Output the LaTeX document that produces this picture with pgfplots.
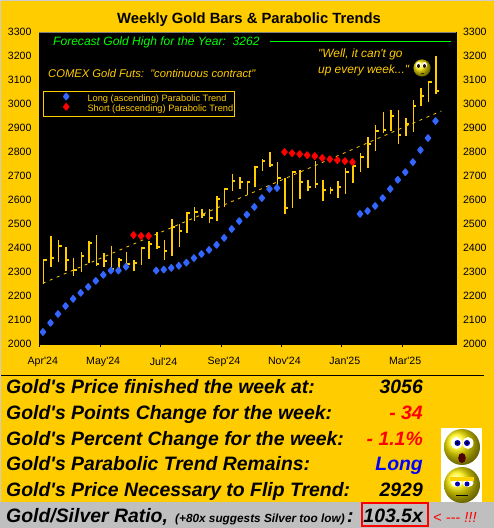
\documentclass[border=0pt]{standalone}
\usepackage{pgfplots}
\pgfplotsset{compat=1.18}
\usepackage{pgfplotstable}
\usepackage{fontspec}
\defaultfontfeatures[\rmfamily]{}
\setmainfont{Liberation Sans}
\definecolor{gold}{HTML}{FFCC00}
\definecolor{bluept}{HTML}{3366FF}
\definecolor{redpt}{HTML}{FF0000}
\definecolor{grn}{HTML}{00FF00}
\pgfdeclareplotmark{closetick}{\pgfpathrectangle{\pgfqpoint{0pt}{-1pt}}{\pgfqpoint{3pt}{2pt}}\pgfusepathqfill}
\pgfplotsset{ptleg/.style={legend image code/.code={\path (0,0) (42pt,0); \draw[##1] plot coordinates {(22pt,2pt)};}}}
\pgfplotstableread{
i h l c
0 2353 2250 2350
1 2450 2322 2358
2 2433 2342 2408
3 2404 2304 2350
4 2358 2283 2308
5 2383 2300 2367
6 2429 2336 2421
7 2454 2325 2333
8 2379 2321 2346
9 2408 2304 2312
10 2358 2304 2350
11 2383 2312 2333
12 2350 2304 2337
13 2404 2329 2400
14 2429 2354 2417
15 2468 2396 2404
16 2433 2350 2387
17 2521 2367 2487
18 2500 2405 2471
19 2550 2462 2546
20 2571 2512 2550
21 2562 2525 2537
22 2562 2504 2525
23 2617 2512 2604
24 2650 2571 2646
25 2708 2637 2679
26 2696 2646 2675
27 2679 2621 2675
28 2742 2654 2737
29 2771 2721 2762
30 2800 2737 2746
31 2758 2642 2692
32 2692 2542 2567
33 2721 2567 2717
34 2725 2604 2675
35 2684 2638 2654
36 2763 2650 2667
37 2684 2596 2642
38 2654 2625 2642
39 2679 2609 2654
40 2734 2625 2717
41 2759 2671 2742
42 2796 2717 2779
43 2863 2734 2834
44 2913 2804 2888
45 2967 2879 2892
46 2975 2888 2950
47 2975 2834 2871
48 2942 2867 2917
49 3017 2884 2992
50 3067 2992 3034
51 3096 3009 3092
52 3200 3042 3054
}\bars
\pgfplotstableread{
i p
0 2050
1 2088
2 2125
3 2158
4 2188
5 2213
6 2238
7 2263
8 2288
9 2306
10 2306
11 2322
15 2306
16 2310
17 2317
18 2326
19 2339
20 2358
21 2375
22 2392
23 2413
24 2442
25 2479
26 2512
27 2539
28 2571
29 2608
30 2646
31 2650
42 2542
43 2554
44 2575
45 2608
46 2646
47 2684
48 2716
49 2758
50 2808
51 2858
52 2929
}\longpts
\pgfplotstableread{
i p
12 2454
13 2450
14 2450
32 2800
33 2795
34 2791
35 2787
36 2783
37 2775
38 2770
39 2766
40 2762
41 2758
}\shortpts
\begin{document}
\begin{tikzpicture}[x=1pt,y=1pt]
\fill[gold] (0,0) rectangle (494,528);
\fill[gray!40] (0,527) rectangle (494,528);
\fill[gray!40] (0,0) rectangle (1,528);
\fill[gray!50] (0,0) rectangle (494,26);
\draw[black,line width=0.9pt] (1,153) -- (484,153);
\begin{axis}[at={(39pt,184pt)},anchor=south west,width=417pt,height=312pt,scale only axis,
 xmin=-0.6,xmax=54.63,ymin=2000,ymax=3300,
 axis background/.style={fill=black},
 axis line style={black},
 clip=true,
 xtick={-0.5,7.5,15.5,23.5,31.5,39.5,47.5},
 xticklabels={Apr'24,May'24,Jul'24,Sep'24,Nov'24,Jan'25,Mar'25},
 xtick pos=lower,xtick align=outside,
 major tick length=3pt,
 tick style={black,line width=0.7pt},
 xticklabel style={font=\fontsize{10.6}{12}\selectfont,xshift=3pt,yshift=-7pt},
 ytick={2000,2100,...,3300},
 ytick style={draw=none},
 yticklabel style={font=\fontsize{10.6}{12}\selectfont,xshift=-4pt,/pgf/number format/assume math mode=true,/pgf/number format/1000 sep={}},
 yticklabel pos=left,
 legend style={at={(0.0096,0.811)},anchor=north west,draw=gold,fill=black,text=gold,line width=0.7pt,
  font=\fontsize{9.25}{10}\selectfont,inner xsep=0.5pt,inner ysep=2pt,row sep=0pt,
  nodes={inner ysep=1pt,inner xsep=1pt}},
 legend cell align=left,
]
\addplot[gold,line width=0.8pt,dash pattern=on 3pt off 4.6pt,forget plot] coordinates {(-0.1,2253) (52.7,2971)};
\addplot[draw=none,forget plot,mark=none,
 error bars/.cd,y dir=both,y explicit,error mark=none,error bar style={color=gold,solid,line width=1.5pt}]
 table[x=i,y=c,y error plus expr=\thisrow{h}-\thisrow{c},y error minus expr=\thisrow{c}-\thisrow{l}] {\bars};
\addplot[only marks,mark=closetick,gold,forget plot] table[x=i,y=c] {\bars};
\addplot[only marks,mark=diamond*,mark size=3.2pt,color=bluept,mark options={xscale=1.1,fill=bluept,draw=bluept,line width=1.3pt,line join=round},ptleg]
 table[x expr=\thisrow{i}-0.08,y=p] {\longpts};
\addlegendentry{Long (ascending) Parabolic Trend}
\addplot[only marks,mark=diamond*,mark size=3.2pt,color=redpt,mark options={xscale=1.1,fill=redpt,draw=redpt,line width=1.3pt,line join=round},ptleg]
 table[x expr=\thisrow{i}-0.08,y=p] {\shortpts};
\addlegendentry{Short (descending) Parabolic Trend}
\addplot[grn,line width=0.9pt,forget plot] coordinates {(30,3262) (54,3262)};
\end{axis}
\begin{axis}[at={(39pt,184pt)},anchor=south west,width=417pt,height=312pt,scale only axis,
 xmin=-0.6,xmax=54.63,ymin=2000,ymax=3300,
 axis line style={draw=none},
 xtick=\empty,
 ytick={2000,2100,...,3300},
 ytick style={draw=none},
 yticklabel pos=right,
 yticklabel style={font=\fontsize{10.6}{12}\selectfont,xshift=3.5pt,/pgf/number format/assume math mode=true,/pgf/number format/1000 sep={}},
]
\end{axis}
\draw[gray,line width=0.8pt] (39,496) -- (456,496);
% title and captions
\node[font=\fontsize{14.8}{16}\selectfont\bfseries,anchor=center] at (249,508) {Weekly Gold Bars \& Parabolic Trends};
\node[font=\fontsize{12.05}{13}\selectfont\itshape,text=grn,anchor=west,inner sep=0pt] at (53,486) {Forecast Gold High for the Year:\ \ 3262};
\node[font=\fontsize{11.2}{13}\selectfont\itshape,text=gold,anchor=west,inner sep=0pt] at (48,454) {COMEX Gold Futs:\ \ "continuous contract"};
\node[font=\fontsize{11.9}{13}\selectfont\itshape,text=gold,anchor=west,inner sep=0pt] at (318,474) {"Well, it can't go};
\node[font=\fontsize{11.9}{13}\selectfont\itshape,text=gold,anchor=west,inner sep=0pt] at (318,458) {up every week..."};
% chart smiley
\shade[ball color=yellow!85!orange] (422,460) circle (8.6);
\fill[white] (418.5,463) ellipse (2.6 and 3);
\fill[white] (424.5,463) ellipse (2.6 and 3);
\fill[black!80!brown] (418.5,462) ellipse (1.5 and 2);
\fill[black!80!brown] (424.5,462) ellipse (1.5 and 2);
\draw[black!70!brown,line width=0.7pt] (421,454.5) -- (424,454.5);
% table
\begin{scope}[every node/.style={inner sep=0pt,font=\fontsize{19.4}{21}\selectfont\bfseries\itshape}]
\node[anchor=base west] at (6,134) {Gold's Price finished the week at:};
\node[anchor=base west] at (6,108.3) {Gold's Points Change for the week:};
\node[anchor=base west] at (6,82.7) {Gold's Percent Change for the week:};
\node[anchor=base west] at (6,57) {Gold's Parabolic Trend Remains:};
\node[anchor=base west] at (6,31.5) {Gold's Price Necessary to Flip Trend:};
\node[anchor=base east] at (423,134) {3056};
\node[anchor=base east,text=red] at (423,108.3) {- 34};
\node[anchor=base east,text=red] at (423,82.7) {- 1.1\%};
\node[anchor=base east,text=blue] at (423,57) {Long};
\node[anchor=base east] at (423,31.5) {2929};
\node[anchor=base west] at (6,5.5) {Gold/Silver Ratio,};
\node[anchor=base west,font=\fontsize{11.8}{13}\selectfont\bfseries\itshape] at (175,5.5) {(+80x suggests Silver too low)};
\node[anchor=base west] at (347,5.5) {:};
\node[anchor=base east] at (423,5.5) {103.5x};
\node[anchor=base west,text=red,font=\fontsize{14.6}{15}\selectfont\itshape] at (433,5.5) {< --- !!!};
\end{scope}
\draw[red,line width=2pt] (362,1.5) rectangle (427.5,24.5);
% emoji
\fill[white] (441,26) rectangle (482,100);
\shade[ball color=yellow!90!orange] (462,81) circle (18);
\fill[white] (456.5,85) ellipse (5.5 and 6);
\fill[white] (468,85) ellipse (5.5 and 6);
\fill[blue!70!black] (457.5,85) circle (3);
\fill[blue!70!black] (467,85) circle (3);
\fill[black] (457.5,85) circle (1.3);
\fill[black] (467,85) circle (1.3);
\fill[black!70!red] (462,70) ellipse (3.8 and 5);
\shade[ball color=yellow!90!orange] (462,43) circle (18);
\fill[white] (456.5,45) ellipse (5.5 and 4);
\fill[white] (468,45) ellipse (5.5 and 4);
\fill[blue!70!black] (457.5,44) circle (2.5);
\fill[blue!70!black] (467,44) circle (2.5);
\fill[yellow!70!orange] (450,46.5) rectangle (474,51);
\draw[black,line width=0.9pt] (456,33) -- (468,33);
\end{tikzpicture}
\end{document}
